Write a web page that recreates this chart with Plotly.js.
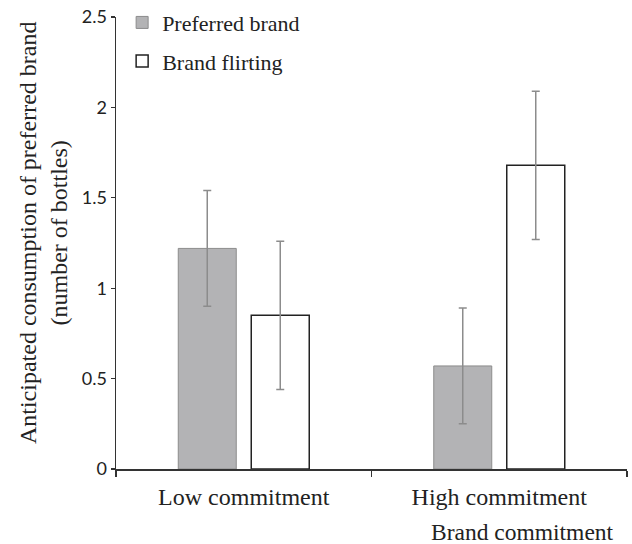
<!DOCTYPE html>
<html>
<head>
<meta charset="utf-8">
<script src="https://cdn.plot.ly/plotly-3.0.1.min.js"></script>
<style>html,body{margin:0;padding:0;background:#fff;}#chart{width:632px;height:544px;}</style>
</head>
<body>
<div id="chart"></div>
<script>
var categories = ["Low commitment", "High commitment"];
var preferredValues = [1.22, 0.57];
var preferredErrors = [0.32, 0.32];
var flirtingValues = [0.85, 1.68];
var flirtingErrors = [0.41, 0.41];
var yTickVals = [0, 0.5, 1, 1.5, 2, 2.5];
var yTickText = ["0", "0.5", "1", "1.5", "2", "2.5"];

var serif = "'Liberation Serif', 'Times New Roman', serif";
var sans = "'Lato', 'Open Sans', sans-serif";

var traces = [
  {
    type: "bar", name: "Preferred brand", x: categories, y: preferredValues,
    legendgroup: "a",
    marker: {color: "#b3b3b5", line: {color: "#8c8c8c", width: 1}},
    error_y: {type: "data", array: preferredErrors, visible: true, color: "#8c8c8c", thickness: 1.5, width: 4}
  },
  {
    type: "bar", name: "Brand flirting", x: categories, y: flirtingValues,
    legendgroup: "b",
    marker: {color: "#ffffff", line: {color: "#222222", width: 1.5}},
    error_y: {type: "data", array: flirtingErrors, visible: true, color: "#8c8c8c", thickness: 1.5, width: 4}
  }
];

var layout = {
  width: 632, height: 544,
  margin: {l: 116, r: 5, t: 17, b: 75, autoexpand: false},
  paper_bgcolor: "#fff", plot_bgcolor: "#fff",
  barmode: "group", bargap: 0.4286, bargroupgap: 0.2055,
  showlegend: true,
  legend: {x: 0.012, y: 1.034, xanchor: "left", yanchor: "top", bgcolor: "rgba(0,0,0,0)",
           font: {family: serif, size: 22, color: "#222"}, tracegroupgap: 7, traceorder: "grouped"},
  xaxis: {
    type: "category", range: [-0.5, 1.5], tickson: "boundaries",
    ticks: "outside", ticklen: 6, tickwidth: 1.2, tickcolor: "#333",
    showline: true, linecolor: "#333", linewidth: 1.5, showgrid: false, zeroline: false,
    ticklabelstandoff: 6, automargin: false,
    tickfont: {family: serif, size: 24, color: "#222"}
  },
  yaxis: {
    range: [0, 2.5], tickvals: yTickVals, ticktext: yTickText,
    ticks: "outside", ticklen: 4, tickwidth: 1.2, tickcolor: "#333",
    showline: true, linecolor: "#333", linewidth: 1.5, showgrid: false, zeroline: false,
    automargin: false,
    tickfont: {family: sans, size: 18, color: "#222"}
  },
  annotations: [
    {text: "Anticipated consumption of preferred brand<br>(number of bottles)", textangle: -90,
     xref: "paper", yref: "paper", x: -0.143, y: 0.524, xanchor: "center", yanchor: "middle",
     showarrow: false, font: {family: serif, size: 24, color: "#222"}},
    {text: "Brand commitment", xref: "paper", yref: "paper", x: 0.795, y: -0.14,
     xanchor: "center", yanchor: "middle", showarrow: false,
     font: {family: serif, size: 23.5, color: "#222"}}
  ]
};

Plotly.newPlot("chart", traces, layout, {displayModeBar: false, staticPlot: true});
</script>
</body>
</html>
